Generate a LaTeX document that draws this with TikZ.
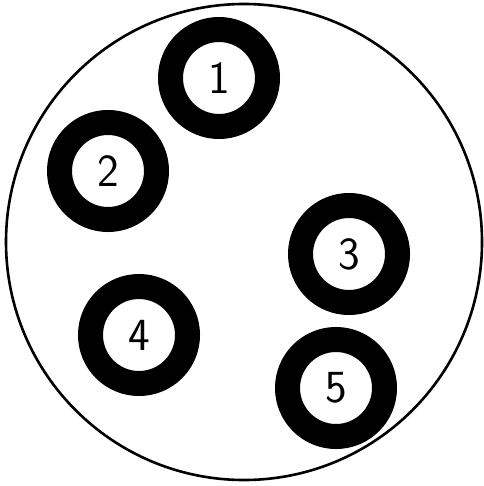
\documentclass[tikz,border=0pt]{standalone}
\usepackage{fontspec}
\usepackage{tikz}
\usetikzlibrary{positioning}

\begin{document}
\begin{tikzpicture}[
x=1pt, y=-1pt,
plate/.style={draw, circle, line width=2.6pt, minimum size=476pt, inner sep=0pt},
hole/.style={draw, circle, line width=25pt, minimum size=97pt, inner sep=0pt, font=\fontsize{46}{48}\selectfont\sffamily}
]
\useasboundingbox (0,0) rectangle (483,486);
\node[plate] (plate) at (244,242) {};
\node[hole] (h1) at (219,78) {1};
\node[hole] (h2) at (108,171) {2};
\node[hole] (h3) at (349,254) {3};
\node[hole] (h4) at (139,335) {4};
\node[hole] (h5) at (336,388) {5};
\end{tikzpicture}
\end{document}
